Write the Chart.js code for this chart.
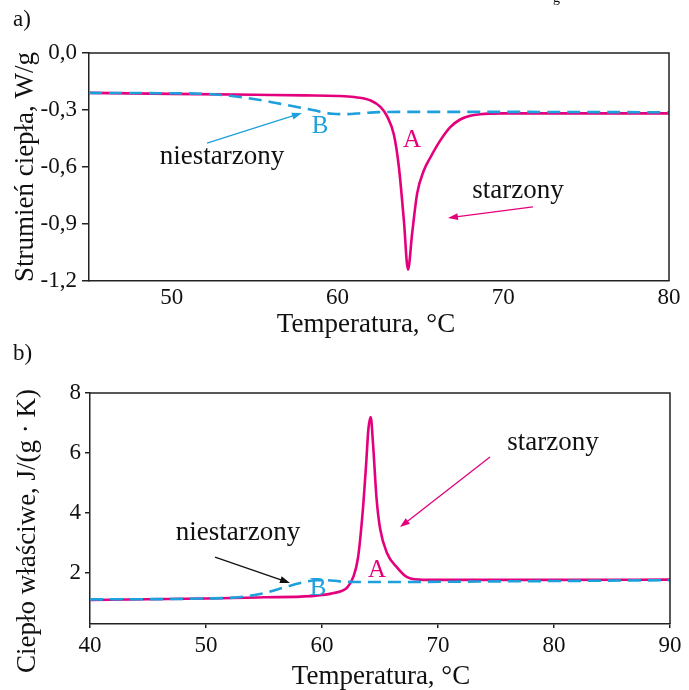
<!DOCTYPE html>
<html><head><meta charset="utf-8">
<script src="https://cdn.jsdelivr.net/npm/chart.js@4.4.0/dist/chart.umd.min.js"></script>
<style>
html,body{margin:0;padding:0;background:#fff;}
#page{position:relative;width:689px;height:690px;overflow:hidden;background:#fff;}
.wrap{position:absolute;left:0;width:689px;height:345px;}
canvas{display:block;}
.lbl{position:absolute;font-family:'Liberation Serif',serif;color:#111;line-height:1;}
</style></head><body>
<div id="page">
<div class="wrap" style="top:0"><canvas id="ca" width="689" height="345"></canvas></div>
<div class="wrap" style="top:345px"><canvas id="cb" width="689" height="345"></canvas></div>
<div class="lbl" style="left:13px;top:7px;font-size:23px">a)</div>
<div class="lbl" style="left:13px;top:341px;font-size:23px">b)</div>
<div class="lbl" style="left:553px;top:-9px;font-size:14px">g</div>
</div>
<script>
// ---------- DATA: chart a) heat flow, W/g ----------
const tempA_aged   = [45, 50, 55, 58, 60, 61, 62, 62.6, 63.0, 63.4, 63.7, 64.0, 64.25, 64.5, 64.8, 65.2, 65.6, 66.2, 66.8, 67.4, 68.0, 68.6, 70, 75, 80];
const flowA_aged   = [-0.210, -0.215, -0.220, -0.223, -0.226, -0.232, -0.250, -0.285, -0.335, -0.43, -0.60, -0.88, -1.14, -0.95, -0.74, -0.62, -0.55, -0.46, -0.39, -0.35, -0.33, -0.322, -0.318, -0.318, -0.318];
const tempA_fresh  = [45, 50, 52, 53.5, 55.5, 57, 58.5, 59.7, 60.5, 61.5, 62.5, 64, 70, 80];
const flowA_fresh  = [-0.210, -0.212, -0.215, -0.225, -0.250, -0.275, -0.300, -0.320, -0.322, -0.316, -0.311, -0.310, -0.310, -0.312];
const yTicksA = [0, -0.3, -0.6, -0.9, -1.2];
const xTicksA = [50, 60, 70, 80];

// ---------- DATA: chart b) specific heat, J/(g·K) ----------
const tempB_aged   = [40, 50, 55, 59, 61, 62.2, 62.7, 63.1, 63.5, 63.8, 64.0, 64.2, 64.4, 64.7, 65.0, 65.6, 66.5, 67.3, 68.4, 70, 80, 90];
const cpB_aged     = [1.10, 1.15, 1.19, 1.23, 1.33, 1.53, 1.87, 2.5, 4.0, 5.6, 6.8, 7.2, 6.3, 4.5, 3.5, 2.67, 2.17, 1.87, 1.78, 1.77, 1.77, 1.78];
const tempB_fresh  = [40, 50, 53, 55, 57, 58.5, 59.5, 60.5, 61.5, 63, 66, 75, 90];
const cpB_fresh    = [1.12, 1.15, 1.20, 1.33, 1.55, 1.70, 1.76, 1.76, 1.72, 1.70, 1.70, 1.72, 1.76];
const yTicksB = [2, 4, 6, 8];
const xTicksB = [40, 50, 60, 70, 80, 90];

const zip = (xs, ys) => xs.map((v, i) => ({x: v, y: ys[i]}));

const MAG = '#E4007C', BLUE = '#1DA0DC', INK = '#111', AX = '#222';
const FONT = "'Liberation Serif', 'Times New Roman', serif";

const annotPlugin = {
  id: 'annot',
  afterDraw(chart, args, opts) {
    const {ctx, chartArea: ca} = chart;
    const xs = chart.scales.x, ys = chart.scales.y;
    ctx.save();
    // frame (top and right)
    ctx.strokeStyle = AX; ctx.lineWidth = 1.5;
    ctx.beginPath();
    ctx.moveTo(ca.left, ca.top); ctx.lineTo(ca.right, ca.top); ctx.lineTo(ca.right, ca.bottom);
    ctx.stroke();
    (opts.arrows || []).forEach(a => {
      const x1 = xs.getPixelForValue(a.x1), y1 = ys.getPixelForValue(a.y1);
      const x2 = xs.getPixelForValue(a.x2), y2 = ys.getPixelForValue(a.y2);
      const ang = Math.atan2(y2 - y1, x2 - x1), L = 10, W = 3.5;
      ctx.strokeStyle = a.color; ctx.fillStyle = a.color; ctx.lineWidth = 1.3;
      ctx.beginPath(); ctx.moveTo(x1, y1);
      ctx.lineTo(x2 - L * 0.8 * Math.cos(ang), y2 - L * 0.8 * Math.sin(ang)); ctx.stroke();
      ctx.beginPath(); ctx.moveTo(x2, y2);
      ctx.lineTo(x2 - L * Math.cos(ang) + W * Math.sin(ang), y2 - L * Math.sin(ang) - W * Math.cos(ang));
      ctx.lineTo(x2 - L * Math.cos(ang) - W * Math.sin(ang), y2 - L * Math.sin(ang) + W * Math.cos(ang));
      ctx.closePath(); ctx.fill();
    });
    (opts.texts || []).forEach(t => {
      ctx.fillStyle = t.color; ctx.font = t.size + 'px ' + FONT;
      ctx.textAlign = 'center'; ctx.textBaseline = 'middle';
      ctx.fillText(t.text, xs.getPixelForValue(t.x), ys.getPixelForValue(t.y));
    });
    if (opts.xTitle) {
      const t = opts.xTitle;
      ctx.fillStyle = INK; ctx.font = t.size + 'px ' + FONT;
      ctx.textAlign = 'center'; ctx.textBaseline = 'middle';
      ctx.fillText(t.text, t.px, t.py);
    }
    if (opts.yTitle) {
      const t = opts.yTitle;
      ctx.translate(t.px, t.py); ctx.rotate(-Math.PI / 2);
      ctx.fillStyle = INK; ctx.font = t.size + 'px ' + FONT;
      ctx.textAlign = 'center'; ctx.textBaseline = 'middle';
      ctx.fillText(t.text, 0, 0);
    }
    ctx.restore();
  }
};

function makeChart(id, cfg) {
  return new Chart(document.getElementById(id), {
    type: 'line',
    data: {datasets: [
      {label: 'niestarzony', data: cfg.fresh, borderColor: BLUE, borderWidth: 2.6, borderDash: [13, 7], pointRadius: 0, tension: 0.4, cubicInterpolationMode: 'monotone', fill: false, order: 0},
      {label: 'starzony', data: cfg.aged, borderColor: MAG, borderWidth: 2.6, pointRadius: 0, tension: 0.4, cubicInterpolationMode: 'monotone', fill: false, order: 1}
    ]},
    options: {
      responsive: false, animation: false, devicePixelRatio: 1,
      layout: {padding: cfg.pad},
      plugins: {legend: {display: false}, tooltip: {enabled: false}, annot: cfg.annot},
      scales: {
        x: {
          type: 'linear', min: cfg.xmin, max: cfg.xmax,
          afterBuildTicks: s => { s.ticks = cfg.xTicks.map(v => ({value: v})); },
          afterFit: s => { s.height = cfg.xh; },
          grid: {drawOnChartArea: false, drawTicks: cfg.xTickMarks, tickLength: 4, color: AX, lineWidth: 1.5},
          border: {display: true, color: AX, width: 1.5},
          ticks: {padding: cfg.xPad, color: INK, font: {family: FONT, size: 23}, maxRotation: 0, autoSkip: false},
          title: {display: false}
        },
        y: {
          type: 'linear', min: cfg.ymin, max: cfg.ymax,
          afterBuildTicks: s => { s.ticks = cfg.yTicks.map(v => ({value: v})); },
          afterFit: s => { s.width = cfg.yw; },
          grid: {drawOnChartArea: false, drawTicks: true, tickLength: cfg.yTickLen, color: AX, lineWidth: 1.5},
          border: {display: true, color: AX, width: 1.5},
          ticks: {padding: cfg.yPad, color: INK, font: {family: FONT, size: 23}, autoSkip: false, callback: cfg.yFmt}
        }
      }
    },
    plugins: [annotPlugin]
  });
}

makeChart('ca', {
  fresh: zip(tempA_fresh, flowA_fresh), aged: zip(tempA_aged, flowA_aged),
  xmin: 45, xmax: 80, ymin: -1.2, ymax: 0, xTicks: xTicksA, yTicks: yTicksA,
  pad: {left: 0, right: 20, top: 53, bottom: 0}, xh: 64, yw: 89,
  xTickMarks: false, xPad: 3, yTickLen: 7, yPad: 5,
  yFmt: v => v.toFixed(1).replace('.', ','),
  annot: {
    xTitle: {text: 'Temperatura, °C', px: 366, py: 325, size: 27},
    yTitle: {text: 'Strumień ciepła, W/g', px: 26, py: 167, size: 27},
    arrows: [
      {x1: 52.12, y1: -0.474, x2: 57.85, y2: -0.316, color: BLUE},
      {x1: 71.79, y1: -0.81, x2: 66.66, y2: -0.868, color: MAG}
    ],
    texts: [
      {text: 'niestarzony', x: 53.03, y: -0.547, color: INK, size: 27},
      {text: 'B', x: 58.94, y: -0.389, color: BLUE, size: 25},
      {text: 'A', x: 64.49, y: -0.458, color: MAG, size: 25},
      {text: 'starzony', x: 70.89, y: -0.726, color: INK, size: 27}
    ]
  }
});

makeChart('cb', {
  fresh: zip(tempB_fresh, cpB_fresh), aged: zip(tempB_aged, cpB_aged),
  xmin: 40, xmax: 90, ymin: 0.3, ymax: 8, xTicks: xTicksB, yTicks: yTicksB,
  pad: {left: 0, right: 19, top: 48, bottom: 0}, xh: 66, yw: 90,
  xTickMarks: true, xPad: 4, yTickLen: 5, yPad: 4,
  yFmt: v => String(v),
  annot: {
    xTitle: {text: 'Temperatura, °C', px: 381, py: 332, size: 27},
    yTitle: {text: 'Ciepło właściwe, J/(g · K)', px: 28, py: 186, size: 27},
    arrows: [
      {x1: 50.78, y1: 2.53, x2: 57.24, y2: 1.67, color: INK},
      {x1: 74.48, y1: 5.87, x2: 66.72, y2: 3.53, color: MAG}
    ],
    texts: [
      {text: 'niestarzony', x: 52.76, y: 3.33, color: INK, size: 27},
      {text: 'B', x: 59.66, y: 1.5, color: BLUE, size: 25},
      {text: 'A', x: 64.74, y: 2.1, color: MAG, size: 25},
      {text: 'starzony', x: 79.91, y: 6.33, color: INK, size: 27}
    ]
  }
});
</script>
</body></html>
